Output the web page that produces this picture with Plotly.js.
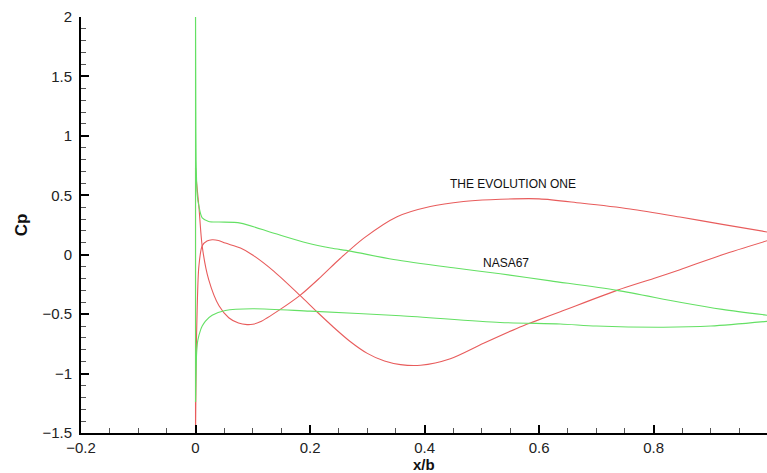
<!DOCTYPE html>
<html>
<head>
<meta charset="utf-8">
<script src="https://cdn.plot.ly/plotly-3.0.1.min.js"></script>
<style>html,body{margin:0;padding:0;background:#fff;}#chart{width:767px;height:473px;}</style>
</head>
<body>
<div id="chart"></div>
<script>
// THE EVOLUTION ONE (red) - upper and lower branches, from leading edge to trailing edge
const evoUpperX = [0, 0.002, 0.0058, 0.0117, 0.023, 0.041, 0.058, 0.075, 0.09, 0.1, 0.113, 0.148, 0.183, 0.218, 0.253, 0.294, 0.352, 0.41, 0.468, 0.515, 0.6, 0.672, 0.759, 0.846, 0.92, 1.0];
const evoUpperCp = [0.73, 0.6, 0.41, 0.07, -0.21, -0.43, -0.53, -0.575, -0.588, -0.585, -0.565, -0.46, -0.34, -0.19, -0.03, 0.14, 0.32, 0.406, 0.448, 0.463, 0.47, 0.435, 0.385, 0.317, 0.255, 0.19];
const evoLowerX = [0, 0.001, 0.003, 0.0058, 0.0117, 0.02, 0.029, 0.04, 0.052, 0.0785, 0.099, 0.137, 0.183, 0.212, 0.241, 0.27, 0.30, 0.33, 0.358, 0.393, 0.445, 0.503, 0.561, 0.59, 0.637, 0.736, 0.80, 0.846, 0.92, 1.0];
const evoLowerCp = [-1.5, -0.9, -0.43, -0.10, 0.076, 0.115, 0.126, 0.12, 0.098, 0.056, 0.0, -0.14, -0.345, -0.48, -0.61, -0.73, -0.83, -0.895, -0.925, -0.93, -0.875, -0.745, -0.62, -0.565, -0.48, -0.30, -0.20, -0.126, 0.0, 0.12];

// NASA67 (green)
const nasaUpperX = [0, 0.0005, 0.001, 0.003, 0.0058, 0.0117, 0.023, 0.041, 0.0785, 0.137, 0.195, 0.236, 0.27, 0.346, 0.45, 0.532, 0.62, 0.736, 0.846, 0.92, 1.0];
const nasaUpperCp = [2.0, 1.2, 0.8, 0.5, 0.41, 0.31, 0.28, 0.275, 0.266, 0.18, 0.098, 0.056, 0.03, -0.04, -0.11, -0.16, -0.22, -0.30, -0.40, -0.46, -0.51];
const nasaLowerX = [0, 0.002, 0.004, 0.009, 0.0117, 0.017, 0.029, 0.052, 0.1, 0.2, 0.358, 0.532, 0.637, 0.7, 0.817, 0.9, 1.0];
const nasaLowerCp = [-1.24, -0.82, -0.72, -0.63, -0.60, -0.56, -0.51, -0.47, -0.455, -0.475, -0.513, -0.57, -0.583, -0.60, -0.61, -0.60, -0.56];

const labels = ["THE EVOLUTION ONE", "NASA67"];
const labelX = [0.555, 0.543];
const labelCp = [0.597, -0.067];
const xTitle = 'x/b';
const yTitle = 'Cp';

const red = 'rgb(232,92,92)';
const green = 'rgb(100,224,100)';

function branch(xs, ys, color) {
  return {x: xs, y: ys, mode: 'lines', line: {color: color, width: 1.1, shape: 'spline', smoothing: 0.8}, hoverinfo: 'skip'};
}
function le(xu, yu, xl, yl, color) {
  // vertical joining segment at the leading edge
  return {x: [xu[0], xl[0]], y: [yu[0], yl[0]], mode: 'lines', line: {color: color, width: 1.1}, hoverinfo: 'skip'};
}

const traces = [
  le(evoUpperX, evoUpperCp, evoLowerX, evoLowerCp, red),
  branch(evoUpperX, evoUpperCp, red),
  branch(evoLowerX, evoLowerCp, red),
  le(nasaUpperX, nasaUpperCp, nasaLowerX, nasaLowerCp, green),
  branch(nasaUpperX, nasaUpperCp, green),
  branch(nasaLowerX, nasaLowerCp, green)
];

const font = {family: '"Liberation Sans", Arial, sans-serif', color: '#111'};

const annotations = labels.map((t, i) => ({
  x: labelX[i], y: labelCp[i], xref: 'x', yref: 'y', text: t, showarrow: false,
  font: {family: font.family, size: 12, color: '#111'}
}));
annotations.push({
  x: 0.5, y: -0.054, xref: 'paper', yref: 'paper', xanchor: 'center', yanchor: 'top',
  text: '<b>' + xTitle + '</b>', showarrow: false, borderpad: 0,
  font: {family: font.family, size: 15, color: '#111'}
});

const layout = {
  width: 767, height: 473,
  margin: {l: 81, r: 0, t: 17, b: 40, pad: 0},
  paper_bgcolor: '#fff', plot_bgcolor: '#fff',
  showlegend: false,
  font: font,
  xaxis: {
    range: [-0.2, 0.998], dtick: 0.2, tick0: 0,
    showgrid: false, zeroline: false,
    showline: true, linecolor: '#000', linewidth: 2,
    ticks: 'inside', ticklen: 8, tickwidth: 2, tickcolor: '#000',
    minor: {dtick: 0.05, ticks: 'inside', ticklen: 5, tickwidth: 1, tickcolor: '#555', showgrid: false},
    tickfont: {family: font.family, size: 15, color: '#222'}
  },
  yaxis: {
    range: [-1.5, 2], dtick: 0.5, tick0: 0,
    showgrid: false, zeroline: false,
    showline: true, linecolor: '#000', linewidth: 2,
    ticks: 'inside', ticklen: 8, tickwidth: 2, tickcolor: '#000',
    minor: {dtick: 0.1, ticks: 'inside', ticklen: 5, tickwidth: 1, tickcolor: '#555', showgrid: false},
    tickfont: {family: font.family, size: 15, color: '#222'},
    ticklabelstandoff: 4,
    title: {text: '<b>' + yTitle + '</b>', font: {family: font.family, size: 17, color: '#111'}, standoff: 10}
  },
  annotations: annotations
};

Plotly.newPlot('chart', traces, layout, {displayModeBar: false, staticPlot: true});
</script>
</body>
</html>
